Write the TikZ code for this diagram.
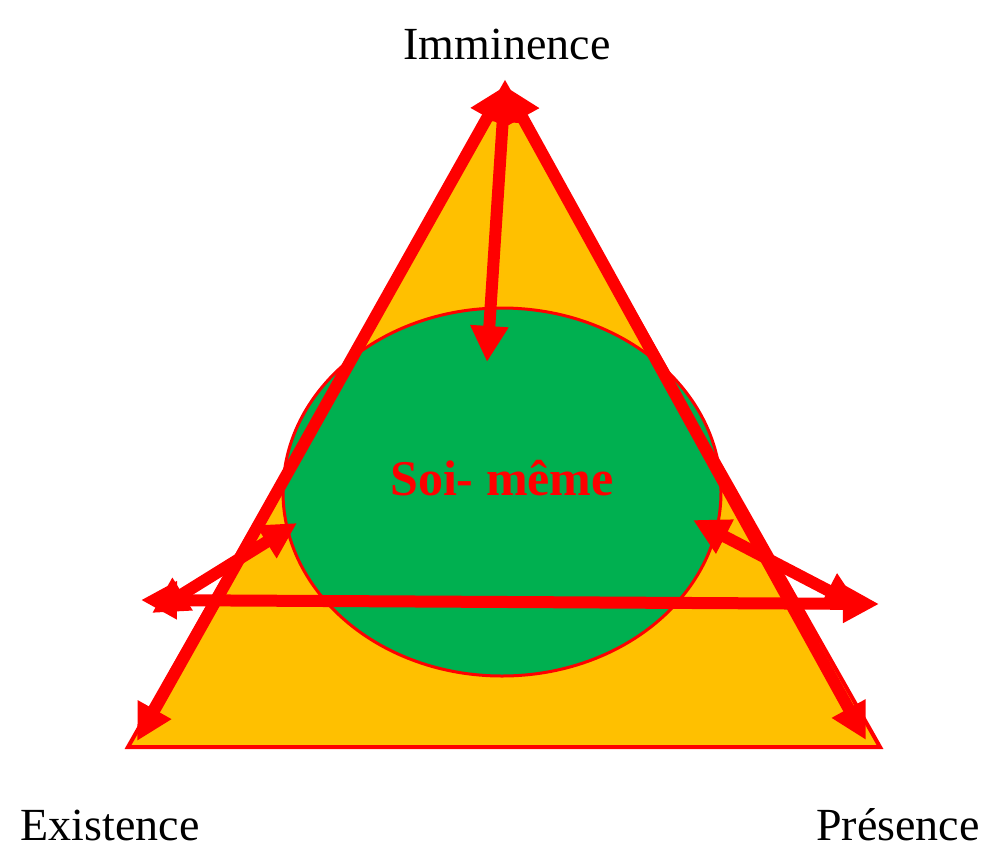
\documentclass[tikz,border=0pt]{standalone}
\usepackage{fontspec}
\setmainfont{Liberation Serif}
\usetikzlibrary{arrows.meta,shapes.geometric}
\definecolor{tri}{HTML}{FFC000}
\definecolor{grn}{HTML}{00B050}
\definecolor{rd}{HTML}{FF0000}
\tikzset{
  arr/.style={draw=rd, line width=12pt, {Triangle[length=36pt,width=36pt]}-{Triangle[length=36pt,width=36pt]}},
  lbl/.style={font=\fontsize{46}{50}\selectfont, inner sep=0pt}
}
\begin{document}
\begin{tikzpicture}[x=1pt,y=-1pt]
\useasboundingbox (0,0) rectangle (1000,863);
\coordinate (A) at (505,84);
\coordinate (L) at (128,747);
\coordinate (R) at (880,747);
\fill[tri, draw=rd, line width=4pt, line join=miter] (A) -- (L) -- (R) -- cycle;
\node[ellipse, draw=rd, fill=grn, line width=3pt, minimum width=438pt, minimum height=368pt, inner sep=0pt] (E) at (502,492) {};
\coordinate (tA) at (505,86);
\coordinate (bL) at (137,741);
\coordinate (bR) at (866,740);
\coordinate (vB) at (487,362);
\coordinate (hL) at (141,600);
\coordinate (hR) at (879,604);
\coordinate (dL1) at (297,523);
\coordinate (dL2) at (152,613);
\coordinate (dR1) at (693,520);
\coordinate (dR2) at (860,607);
\draw[arr] (bL) -- (tA);
\draw[arr] (bR) -- (tA);
\draw[arr] (tA) -- (vB);
\draw[arr] (dL2) -- (dL1);
\draw[arr] (dR1) -- (dR2);
\draw[arr] (hL) -- (hR);
\node[font=\fontsize{50}{54}\selectfont\bfseries, text=rd, inner sep=0pt] (S) at (502,478) {Soi- même};
\node[lbl] (I) at (507,44) {Imminence};
\node[lbl] (X) at (110,825) {Existence};
\node[lbl] (P) at (898,825) {Présence};
\end{tikzpicture}
\end{document}
